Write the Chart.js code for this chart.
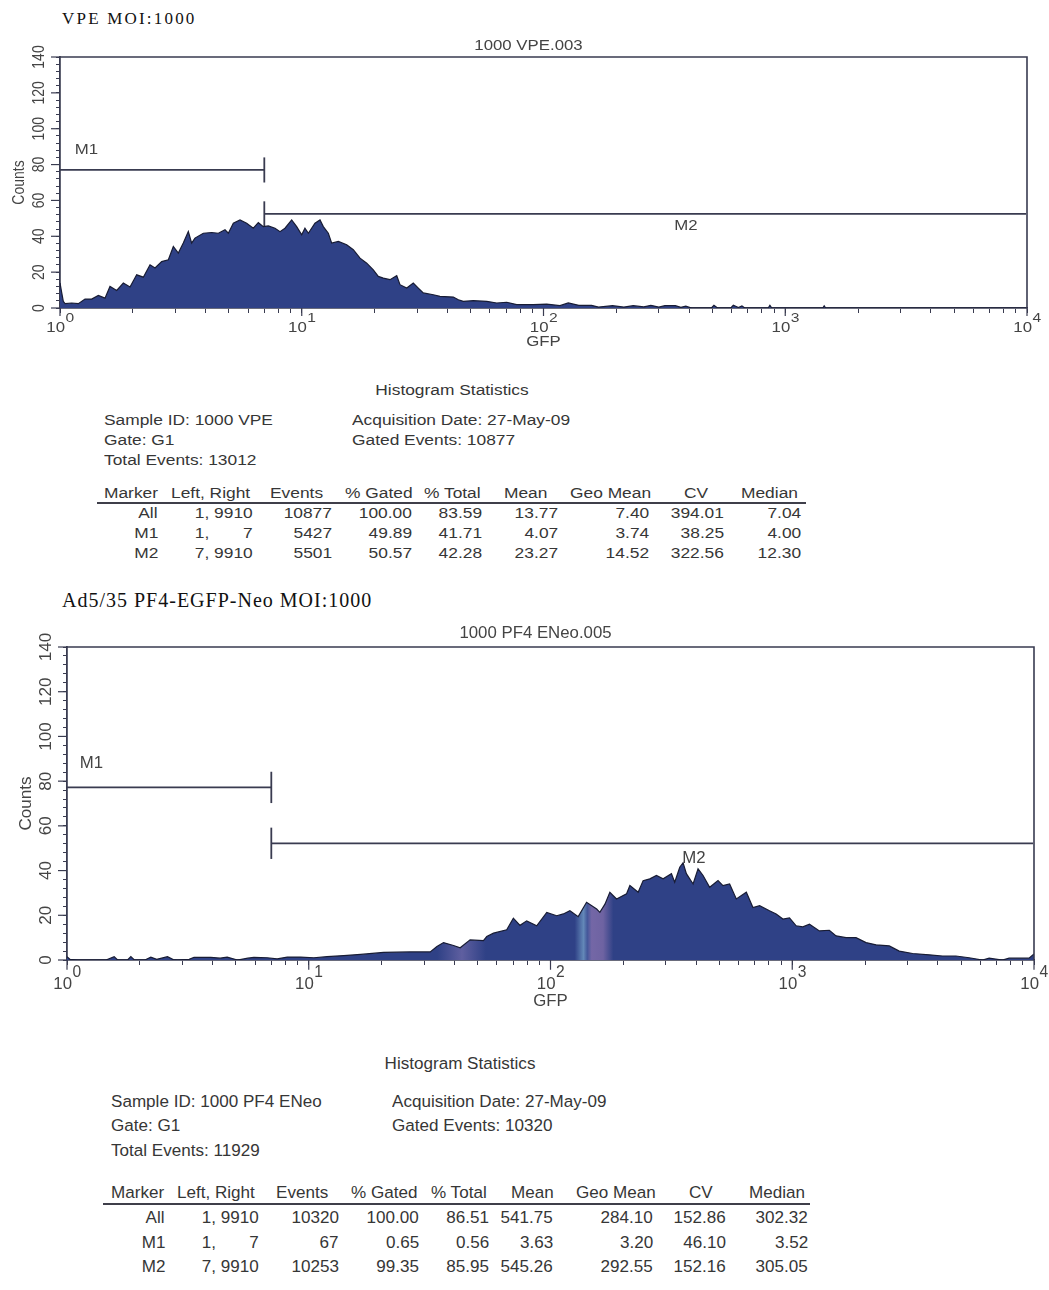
<!DOCTYPE html>
<html>
<head>
<meta charset="utf-8">
<script src="https://cdn.jsdelivr.net/npm/chart.js@4.4.1/dist/chart.umd.min.js"></script>
<style>
html,body{margin:0;padding:0;background:#fff;}
#page{position:relative;width:1049px;height:1290px;overflow:hidden;background:#fff;}
canvas{position:absolute;left:0;}
.t{position:absolute;white-space:pre;font-family:"Liberation Sans",Arial,Helvetica,sans-serif;color:#363636;}
.serif{font-family:"Liberation Serif","Times New Roman",serif;color:#111;}
.rule{position:absolute;background:#3f3f4a;height:2px;}
</style>
</head>
<body>
<div id="page">
<canvas id="c1" width="1049" height="330" style="top:30px"></canvas>
<canvas id="c2" width="1049" height="400" style="top:620px"></canvas>
</div>
<script>
// ---------------- DATA ----------------
// Panel 1: VPE MOI:1000 (GFP channel value -> counts)
const vpeGFP = [1.0,1.015,1.032,1.049,1.118,1.191,1.269,1.352,1.441,1.535,1.610,1.716,1.828,1.948,2.076,2.212,2.357,2.472,2.634,2.807,2.943,3.086,3.236,3.395,3.504,3.617,3.916,4.241,4.519,4.815,4.970,5.212,5.554,5.918,6.305,6.612,6.935,7.274,7.750,8.129,8.524,9.085,9.528,9.995,10.31,10.65,11.34,11.9,12.28,12.88,13.30,14.17,15.34,16.34,17.42,18.57,19.77,20.73,21.75,23.17,24.71,25.49,27.18,28.93,30.35,31.83,35.02,37.32,42.37,44.43,46.60,51.25,58.24,64.03,70.44,77.47,90.76,103.1,117.0,126.6,140,158,169,193,215,235,260,278,300,318,351,370,388,410,495,507,525,595,610,640,662,680,850,864,880,1430,1449,1470,10000];
const vpeCounts = [14,9,3.7,2.4,2.8,2.4,5.0,5.0,7.0,5.5,12,9.8,13.9,11.7,18.5,17.2,24.1,22.3,25.9,26.9,34.3,30.6,36.2,42.6,36.2,39,41.7,42.1,41.7,43.6,41.7,47.3,49.1,47.3,44.5,47.6,45.4,45.8,44.5,42.6,44.5,49.1,45.4,40.8,44.5,41.7,47.3,49.1,45.4,41.7,36.2,37.1,35.3,32.5,27.8,25.0,21.3,17.6,16.7,15.8,18,13.0,11.1,13.9,11.1,8.4,7.4,6.5,6.1,4.6,3.7,4.1,3.7,2.8,3.2,1.9,1.9,2.2,1.3,2.8,1.5,1.5,0.5,1.3,0.5,1.3,0.6,1.5,0.5,1.3,1.3,0.4,1.0,0,0,1.5,0,0,1.5,0.3,1.2,0,0,1.5,0,0,1.2,0,0];

// Panel 2: Ad5/35 PF4-EGFP-Neo MOI:1000
const pf4GFP = [1.0,1.03,1.107,1.45,1.567,1.62,1.78,1.837,1.9,2.1,2.222,2.35,2.604,2.75,2.864,3.2,3.354,3.93,4.3,4.60,5.07,5.6,5.93,6.74,7.4,8.15,9.25,10.5,11.9,13.96,16.4,20.4,26.3,31.8,33.9,36.1,39.7,42.3,46.5,52.8,54.5,58.1,65.9,70.2,74.8,79.7,87.7,96.5,106.1,113,120.3,130.2,141,155.2,160,168,176,187.6,206.4,213,230.5,241.6,257.6,274.3,292.3,316.4,326.4,342.5,353.5,364.8,388.9,407.7,427.6,455.4,493.1,516.9,550.7,587,645.7,687.7,732.8,805,858,915,974,1038,1106,1178,1295,1424,1518,1670,1836,2020,2221,2520,2771,3146,3688,4183,4751,5393,6122,6522,7404,7887,9537,10000];
const pf4Counts = [1.5,0.3,0,0,1.5,0,0,1.5,0,0,1.3,0.3,1.5,0.2,0,0.3,1.2,1.2,0.8,1.3,0,0.8,1.2,1,0.5,1.3,1.3,1,1.5,2,2.5,3.4,3.6,3.6,6,7.8,6.5,5.5,9,8.7,10.5,12,13.5,18.7,15.5,17.5,15.3,21.3,19.8,20.6,22,19.4,25.8,22.8,21.3,25,30.3,27.3,29.6,33.3,30.3,35.5,36.3,37.8,36.3,38.6,34.8,41.5,43.5,38.6,34,40.8,37.8,32.5,35.5,33.3,34,27.3,30.3,23.5,24.3,22,20.6,18.3,18.8,15.3,14.8,16,13,13.3,10.8,10,10,7.8,6.8,6.3,4,2.9,2.3,1.8,1.8,1,0,0.8,0,0.8,0.8,2.7];

// Axis ticks / labels
const yTickValues = [0,20,40,60,80,100,120,140];
const yMinorStep = 4;
const xDecadeValues = [1,10,100,1000,10000];
const xDecadeExponents = ['0','1','2','3','4'];

// Region markers (Left, Right in channel units, level in counts)
const markerNames = ['M1','M2'];
const markerTickEnds = [['right'],['left']];
const vpeMarkerLeft = [1,7];
const vpeMarkerRight = [7,9910];
const vpeMarkerLevel = [77,52.5];
const pf4MarkerLeft = [1,7];
const pf4MarkerRight = [7,9910];
const pf4MarkerLevel = [77.2,52.2];

// Statistics tables
const statHeaders = ['Marker','Left, Right','Events','% Gated','% Total','Mean','Geo Mean','CV','Median'];
const vpeStats = [
  ['All','1, 9910','10877','100.00','83.59','13.77','7.40','394.01','7.04'],
  ['M1','1, \u2007\u2007\u20077','5427','49.89','41.71','4.07','3.74','38.25','4.00'],
  ['M2','7, 9910','5501','50.57','42.28','23.27','14.52','322.56','12.30']
];
const pf4Stats = [
  ['All','1, 9910','10320','100.00','86.51','541.75','284.10','152.86','302.32'],
  ['M1','1, \u2007\u2007\u20077','67','0.65','0.56','3.63','3.20','46.10','3.52'],
  ['M2','7, 9910','10253','99.35','85.95','545.26','292.55','152.16','305.05']
];
const vpeInfo = {sample:'Sample ID: 1000 VPE', gate:'Gate: G1', total:'Total Events: 13012', date:'Acquisition Date: 27-May-09', gated:'Gated Events: 10877'};
const pf4Info = {sample:'Sample ID: 1000 PF4 ENeo', gate:'Gate: G1', total:'Total Events: 11929', date:'Acquisition Date: 27-May-09', gated:'Gated Events: 10320'};

// ---------------- STYLE ----------------
const SANS = '"Liberation Sans", Arial, Helvetica, sans-serif';
const AXIS = '#393b50';
const LABEL = '#444444';
const FILL = '#2f4186';
const OUTLINE = '#181c34';
const TICK_HALF = 7;

const xAllTicks = [];
for (let d = 1; d < 10000; d *= 10) for (let k = 1; k < 10; k++) xAllTicks.push(k * d);
xAllTicks.push(10000);
const yMinorTicks = [];
for (let v = 0; v <= 140; v += yMinorStep) yMinorTicks.push(v);

function txt(ctx, s, x, y, size, sx, sy, align, rot, color) {
  ctx.save();
  ctx.translate(x, y);
  ctx.scale(sx, sy);
  if (rot) ctx.rotate(rot);
  ctx.font = size + 'px ' + SANS;
  ctx.textAlign = align;
  ctx.textBaseline = 'middle';
  ctx.fillStyle = color;
  ctx.fillText(s, 0, 0);
  ctx.restore();
}

function makeDecor(cfg) {
  return {
    id: 'decor',
    afterDraw(chart) {
      const ctx = chart.ctx, a = chart.chartArea, x = chart.scales.x, y = chart.scales.y;
      const sx = cfg.sx, sy = cfg.sy;
      ctx.save();
      ctx.strokeStyle = AXIS;
      ctx.lineWidth = 1.6;
      ctx.beginPath();
      ctx.moveTo(a.left, a.top); ctx.lineTo(a.right, a.top); ctx.lineTo(a.right, a.bottom);
      ctx.stroke();
      ctx.lineWidth = 1.2;
      yTickValues.forEach(v => {
        const p = y.getPixelForValue(v);
        ctx.beginPath(); ctx.moveTo(a.left - 9, p); ctx.lineTo(a.left, p); ctx.stroke();
      });
      xDecadeValues.forEach(v => {
        const p = x.getPixelForValue(v);
        ctx.beginPath(); ctx.moveTo(p, a.bottom); ctx.lineTo(p, a.bottom + 8 * sy); ctx.stroke();
      });
      ctx.restore();
      // y tick labels (rotated)
      yTickValues.forEach(v => txt(ctx, String(v), a.left - 21, y.getPixelForValue(v), 14, sx, sy, 'center', -Math.PI / 2, LABEL));
      txt(ctx, 'Counts', a.left - 41, (a.top + a.bottom) / 2, 14, sx, sy, 'center', -Math.PI / 2, LABEL);
      // x decade labels 10^n
      xDecadeValues.forEach((v, i) => {
        const p = x.getPixelForValue(v);
        ctx.font = '14px ' + SANS; const w1 = ctx.measureText('10').width;
        ctx.font = '13px ' + SANS; const w2 = ctx.measureText(xDecadeExponents[i]).width;
        const left = p - (w1 + w2) * sx / 2;
        txt(ctx, '10', left, a.bottom + 20 * sy, 14, sx, sy, 'left', 0, LABEL);
        txt(ctx, xDecadeExponents[i], left + w1 * sx + 0.5, a.bottom + 10 * sy, 13, sx, sy, 'left', 0, LABEL);
      });
      txt(ctx, 'GFP', x.getPixelForValue(100), a.bottom + 34 * sy, 14, sx, sy, 'center', 0, LABEL);
      txt(ctx, cfg.title, (a.left + a.right) / 2 - 15, a.top - 11 * sy, 14, sx, sy, 'center', 0, LABEL);
      // marker labels
      cfg.mLabels.forEach(m => txt(ctx, m.text, x.getPixelForValue(m.x), y.getPixelForValue(m.y), 14, sx, sy, m.align, 0, LABEL));
    }
  };
}

function makeChart(id, gfp, counts, mk, cfg) {
  const datasets = [{
    data: gfp.map((v, i) => ({x: v, y: counts[i]})),
    fill: 'origin',
    backgroundColor: cfg.fill,
    borderColor: OUTLINE, borderWidth: 1.2, pointRadius: 0, tension: 0
  }];
  markerNames.forEach((n, i) => {
    datasets.push({data: [{x: mk.left[i], y: mk.level[i]}, {x: mk.right[i], y: mk.level[i]}],
      borderColor: AXIS, borderWidth: 1.8, pointRadius: 0, fill: false});
    markerTickEnds[i].forEach(end => {
      const xv = end === 'left' ? mk.left[i] : mk.right[i];
      datasets.push({
        data: [{x: xv, y: mk.level[i] - TICK_HALF}, {x: xv, y: mk.level[i] + TICK_HALF}],
        borderColor: AXIS, borderWidth: 1.8, pointRadius: 0, fill: false});
    });
  });
  return new Chart(document.getElementById(id), {
    type: 'line',
    data: {datasets},
    options: {
      responsive: false, animation: false, events: [],
      layout: {padding: {left: 0, top: cfg.padTop, right: cfg.padRight, bottom: 0}},
      plugins: {legend: {display: false}, tooltip: {enabled: false}, title: {display: false}},
      scales: {
        x: {type: 'logarithmic', min: 1, max: 10000, position: 'bottom',
          afterBuildTicks: s => { s.ticks = xAllTicks.map(v => ({value: v})); },
          afterFit: s => { s.height = cfg.xAxisH; },
          ticks: {callback: () => '', autoSkip: false, maxRotation: 0, padding: 0},
          grid: {drawOnChartArea: false, drawTicks: true, tickLength: 5, color: AXIS, lineWidth: 1},
          border: {display: true, color: AXIS, width: 1.8}},
        y: {type: 'linear', min: 0, max: 140, position: 'left',
          afterBuildTicks: s => { s.ticks = yMinorTicks.map(v => ({value: v})); },
          afterFit: s => { s.width = cfg.yAxisW; },
          ticks: {callback: () => '', autoSkip: false, padding: 0},
          grid: {drawOnChartArea: false, drawTicks: true, tickLength: 4, color: AXIS, lineWidth: 1},
          border: {display: true, color: AXIS, width: 1.8}}
      }
    },
    plugins: [makeDecor(cfg)]
  });
}

// Chart 2 fill with the scanner's lighter colour bands
const pf4Bands = [[34, FILL], [43, '#5f5fa0'], [54, FILL], [126, FILL], [137, '#6388b8'], [142, '#44579a'], [148, '#7467a6'], [165, '#6e63a2'], [182, FILL]];
function pf4Fill(c) {
  const ch = c.chart, a = ch.chartArea;
  if (!a) return FILL;
  const xs = ch.scales.x;
  const g = ch.ctx.createLinearGradient(a.left, 0, a.right, 0);
  g.addColorStop(0, FILL);
  pf4Bands.forEach(b => {
    const t = (xs.getPixelForValue(b[0]) - a.left) / (a.right - a.left);
    g.addColorStop(Math.min(1, Math.max(0, t)), b[1]);
  });
  g.addColorStop(1, FILL);
  return g;
}

makeChart('c1', vpeGFP, vpeCounts,
  {left: vpeMarkerLeft, right: vpeMarkerRight, level: vpeMarkerLevel},
  {padTop: 27, padRight: 22, xAxisH: 52, yAxisW: 60, sx: 1.2, sy: 1.0, fill: FILL,
   title: '1000 VPE.003',
   mLabels: [{text: markerNames[0], x: 1.15, y: 88, align: 'left'}, {text: markerNames[1], x: 388, y: 45.8, align: 'center'}]});

makeChart('c2', pf4GFP, pf4Counts,
  {left: pf4MarkerLeft, right: pf4MarkerRight, level: pf4MarkerLevel},
  {padTop: 27, padRight: 15, xAxisH: 60, yAxisW: 67, sx: 1.2, sy: 1.22, fill: pf4Fill,
   title: '1000 PF4 ENeo.005',
   mLabels: [{text: markerNames[0], x: 1.13, y: 88, align: 'left'}, {text: markerNames[1], x: 392, y: 45.6, align: 'center'}]});

// ---------------- TEXT ----------------
const page = document.getElementById('page');
function addText(s, x, y, o) {
  o = o || {};
  const el = document.createElement('span');
  el.className = 't' + (o.serif ? ' serif' : '');
  el.textContent = s;
  const size = o.size || 14;
  el.style.fontSize = size + 'px';
  el.style.lineHeight = size + 'px';
  el.style.top = (y - size / 2) + 'px';
  if (o.ls) el.style.letterSpacing = o.ls + 'px';
  const sx = o.sx || 1, sy = o.sy || 1, align = o.align || 'left';
  if (align === 'left') {
    el.style.left = x + 'px'; el.style.transformOrigin = 'left center';
    el.style.transform = 'scale(' + sx + ',' + sy + ')';
  } else if (align === 'right') {
    el.style.right = (1049 - x) + 'px'; el.style.transformOrigin = 'right center';
    el.style.transform = 'scale(' + sx + ',' + sy + ')';
  } else {
    el.style.left = x + 'px'; el.style.transformOrigin = 'left center';
    el.style.transform = 'scale(' + sx + ',' + sy + ') translateX(-50%)';
  }
  page.appendChild(el);
}
function addRule(x1, x2, y) {
  const d = document.createElement('div');
  d.className = 'rule';
  d.style.left = x1 + 'px'; d.style.width = (x2 - x1) + 'px'; d.style.top = (y - 1) + 'px';
  page.appendChild(d);
}

addText('VPE MOI:1000', 62, 18, {serif: true, size: 17, ls: 2.2});
addText('Ad5/35 PF4-EGFP-Neo MOI:1000', 62, 600, {serif: true, size: 20, ls: 1});

function statsBlock(info, rows, L) {
  const o = {size: 14, sx: L.sx, sy: L.sy};
  addText('Histogram Statistics', L.titleX, L.titleY, Object.assign({align: 'center'}, o));
  addText(info.sample, L.col1, L.infoY[0], o);
  addText(info.gate, L.col1, L.infoY[1], o);
  addText(info.total, L.col1, L.infoY[2], o);
  addText(info.date, L.col2, L.infoY[0], o);
  addText(info.gated, L.col2, L.infoY[1], o);
  statHeaders.forEach((h, i) => addText(h, L.headLeft[i], L.headY, o));
  addRule(L.ruleX[0], L.ruleX[1], L.ruleY);
  rows.forEach((r, j) => r.forEach((v, i) => addText(v, L.valRight[i], L.rowY[j], Object.assign({align: 'right'}, o))));
}

statsBlock(vpeInfo, vpeStats, {
  sx: 1.24, sy: 1.0, titleX: 452, titleY: 390, col1: 104, col2: 352, infoY: [420, 440, 460],
  headLeft: [104, 171, 270, 345, 424, 504, 570, 684, 741], headY: 493,
  ruleX: [97, 806], ruleY: 503,
  valRight: [158, 253, 332, 412, 482, 558, 649, 724, 801], rowY: [513, 533, 553]
});
statsBlock(pf4Info, pf4Stats, {
  sx: 1.22, sy: 1.22, titleX: 460, titleY: 1063, col1: 111, col2: 392, infoY: [1101, 1125, 1150],
  headLeft: [111, 177, 276, 351, 431, 511, 576, 689, 749], headY: 1192,
  ruleX: [103, 810], ruleY: 1204,
  valRight: [165, 259, 339, 419, 489, 553, 653, 726, 808], rowY: [1217, 1242, 1266]
});
</script>
</body>
</html>
